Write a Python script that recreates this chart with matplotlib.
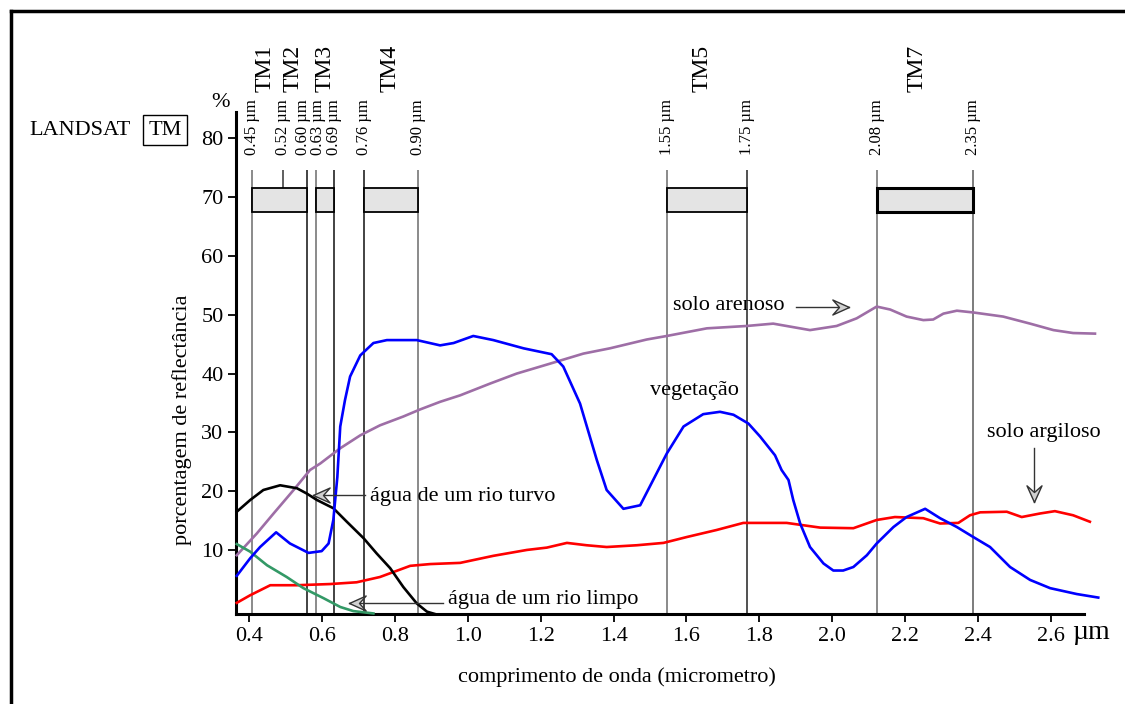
import matplotlib.pyplot as plt
from matplotlib.patches import Rectangle
from matplotlib.lines import Line2D

plt.rcParams['font.family'] = ['Liberation Serif', 'DejaVu Serif']

# curvas de reflectância (x em µm, y em %)
veg_x = [0.366, 0.403, 0.430, 0.474, 0.512, 0.563, 0.599, 0.618, 0.631, 0.642, 0.650, 0.663,
         0.677, 0.705, 0.741, 0.778, 0.860, 0.924, 0.961, 1.015, 1.070, 1.153, 1.230, 1.262,
         1.308, 1.354, 1.381, 1.427, 1.473, 1.546, 1.592, 1.646, 1.692, 1.729, 1.770, 1.802,
         1.843, 1.861, 1.880, 1.893, 1.912, 1.939, 1.976, 2.003, 2.030, 2.058, 2.095, 2.122,
         2.168, 2.204, 2.255, 2.296, 2.342, 2.387, 2.433, 2.488, 2.543, 2.598, 2.671, 2.730]
veg_y = [5.6, 8.6, 10.5, 13.0, 11.1, 9.5, 9.8, 11.1, 15.1, 22.4, 31.0, 35.5,
         39.5, 43.1, 45.2, 45.7, 45.7, 44.8, 45.2, 46.4, 45.7, 44.3, 43.3, 41.2,
         34.9, 25.3, 20.2, 17.0, 17.6, 26.4, 31.0, 33.1, 33.5, 33.0, 31.5, 29.3,
         26.1, 23.6, 21.9, 18.5, 14.5, 10.5, 7.7, 6.5, 6.5, 7.1, 9.1, 11.1,
         13.9, 15.6, 17.0, 15.4, 13.9, 12.2, 10.5, 7.1, 4.9, 3.5, 2.5, 1.9]

areia_x = [0.366, 0.421, 0.467, 0.522, 0.567, 0.595, 0.650, 0.705, 0.759, 0.823, 0.869, 0.924,
           0.979, 1.061, 1.134, 1.226, 1.317, 1.390, 1.491, 1.546, 1.656, 1.765, 1.838, 1.939,
           2.012, 2.067, 2.122, 2.159, 2.204, 2.250, 2.277, 2.305, 2.342, 2.387, 2.469, 2.543,
           2.607, 2.661, 2.721]
areia_y = [9.1, 12.8, 16.2, 20.2, 23.6, 24.7, 27.3, 29.5, 31.2, 32.7, 33.9, 35.2,
           36.3, 38.3, 40.0, 41.7, 43.4, 44.3, 45.8, 46.4, 47.7, 48.1, 48.5, 47.4,
           48.1, 49.4, 51.4, 50.9, 49.7, 49.1, 49.2, 50.2, 50.7, 50.4, 49.7, 48.5,
           47.4, 46.9, 46.8]

turvo_x = [0.366, 0.403, 0.439, 0.485, 0.531, 0.558, 0.586, 0.631, 0.668, 0.714, 0.750, 0.787,
           0.823, 0.860, 0.888, 0.910]
turvo_y = [16.5, 18.5, 20.2, 21.0, 20.5, 19.6, 18.5, 17.1, 14.8, 12.0, 9.4, 6.9,
           3.7, 0.9, -0.5, -0.9]

limpo_x = [0.366, 0.403, 0.449, 0.503, 0.549, 0.604, 0.650, 0.686, 0.741]
limpo_y = [11.0, 9.7, 7.4, 5.4, 3.5, 1.8, 0.3, -0.4, -0.8]

argila_x = [0.366, 0.403, 0.458, 0.531, 0.622, 0.695, 0.759, 0.842, 0.897, 0.979, 1.070, 1.162,
            1.217, 1.272, 1.326, 1.381, 1.464, 1.537, 1.601, 1.683, 1.756, 1.875, 1.967, 2.058,
            2.122, 2.172, 2.250, 2.296, 2.346, 2.378, 2.406, 2.479, 2.520, 2.570, 2.611, 2.661,
            2.707]
argila_y = [1.0, 2.3, 4.0, 4.0, 4.2, 4.5, 5.4, 7.3, 7.6, 7.8, 9.0, 10.0,
            10.4, 11.2, 10.8, 10.5, 10.8, 11.2, 12.2, 13.4, 14.6, 14.6, 13.8, 13.7,
            15.1, 15.6, 15.4, 14.5, 14.6, 15.9, 16.4, 16.5, 15.6, 16.2, 16.6, 15.9,
            14.8]

# bandas do Landsat TM
band_edges = [0.407, 0.558, 0.583, 0.633, 0.714, 0.862, 1.546, 1.767, 2.124, 2.386]
band_labels = ['0.45 µm', '0.60 µm', '0.63 µm', '0.69 µm', '0.76 µm', '0.90 µm',
               '1.55 µm', '1.75 µm', '2.08 µm', '2.35 µm']
tm2_edge = 0.494
tm2_label = '0.52 µm'
boxes = [(0.407, 0.558), (0.583, 0.633), (0.714, 0.862), (1.546, 1.767), (2.124, 2.386)]
tm_names = ['TM1', 'TM2', 'TM3', 'TM4', 'TM5', 'TM7']
tm_pos = [0.444, 0.521, 0.609, 0.787, 1.642, 2.232]

xticks = [0.4, 0.6, 0.8, 1.0, 1.2, 1.4, 1.6, 1.8, 2.0, 2.2, 2.4, 2.6]
yticks = [10, 20, 30, 40, 50, 60, 70, 80]

fs = 16

fig = plt.figure(figsize=(11.25, 7.04), dpi=100)
ax = fig.add_axes([0.2098, 0.1278, 0.7538, 0.7131])
ybot, ytop = -0.9, 84.5
ax.set_xlim(0.364, 2.691)
ax.set_ylim(ybot, ytop)

for s in ['top', 'right']:
    ax.spines[s].set_visible(False)
for s in ['left', 'bottom']:
    ax.spines[s].set_linewidth(2.2)
ax.set_xticks(xticks)
ax.set_xticklabels([f'{v:.1f}' for v in xticks])
ax.set_yticks(yticks)
ax.tick_params(direction='out', length=6, width=1.3, labelsize=fs, pad=3)

# linhas e caixas das bandas
edge_colors = ['#777777', '#222222', '#777777', '#222222', '#222222', '#777777',
               '#777777', '#333333', '#777777', '#666666']
line_top = 74.6
ax.vlines(band_edges, ybot, line_top, colors=edge_colors, lw=1.2, zorder=2)
ax.vlines(tm2_edge, 71.6, line_top, colors='#444444', lw=1.2, zorder=2)
for i, (x0, x1) in enumerate(boxes):
    lw = 2.2 if i == len(boxes) - 1 else 1.3
    ax.add_patch(Rectangle((x0, 67.5), x1 - x0, 4.1, fc='#e4e4e4', ec='black',
                           lw=lw, zorder=3))

label_pos = list(band_edges)
label_pos[1] -= 0.011
label_pos[2] += 0.005
for x, t in zip(label_pos, band_labels):
    ax.text(x, 77.2, t, rotation=90, ha='center', va='bottom', fontsize=12)
ax.text(tm2_edge, 77.2, tm2_label, rotation=90, ha='center', va='bottom', fontsize=12)
for x, t in zip(tm_pos, tm_names):
    ax.text(x, 87.9, t, rotation=90, ha='center', va='bottom', fontsize=17)

# curvas
lw = 1.9
ax.plot(areia_x, areia_y, color='#9e6ea6', lw=lw, clip_on=False, zorder=4)
ax.plot(veg_x, veg_y, color='#0000ff', lw=lw, clip_on=False, zorder=5)
ax.plot(argila_x, argila_y, color='#ff0000', lw=lw, clip_on=False, zorder=4)
ax.plot(turvo_x, turvo_y, color='black', lw=lw, clip_on=False, zorder=4)
ax.plot(limpo_x, limpo_y, color='#339966', lw=lw, clip_on=False, zorder=4)

# setas das legendas
head_left = [(0, 0), (2, 0.9), (1.2, 0), (2, -0.9), (0, 0)]
head_right = [(0, 0), (-2, 0.9), (-1.2, 0), (-2, -0.9), (0, 0)]
head_down = [(0, 0), (0.9, 2), (0, 1.2), (-0.9, 2), (0, 0)]


def seta(tail, tip, head):
    ax.plot([tail[0], tip[0]], [tail[1], tip[1]], color='#333333', lw=1, clip_on=False, zorder=6)
    ax.plot(tip[0], tip[1], marker=head, ms=24, mfc='#d0d0d0', mec='#333333', mew=1,
            clip_on=False, zorder=7)


seta((0.718, 19.3), (0.576, 19.3), head_left)
seta((0.933, 1.0), (0.675, 1.0), head_left)
seta((1.901, 51.4), (2.047, 51.4), head_right)
seta((2.554, 27.3), (2.554, 18.2), head_down)

ax.text(0.732, 19.1, 'água de um rio turvo', fontsize=fs, va='center', ha='left')
ax.text(0.945, 1.5, 'água de um rio limpo', fontsize=fs, va='center', ha='left')
ax.text(1.562, 51.5, 'solo arenoso', fontsize=fs, va='center', ha='left')
ax.text(1.500, 37.2, 'vegetação', fontsize=fs, va='center', ha='left')
ax.text(2.424, 30.0, 'solo argiloso', fontsize=fs, va='center', ha='left')

# textos da figura
fig.text(0.1618, 0.4034, 'porcentagem de reflectância', rotation=90, fontsize=fs,
         ha='center', va='center')
fig.text(0.5484, 0.0384, 'comprimento de onda (micrometro)', fontsize=fs,
         ha='center', va='center')
fig.text(0.970, 0.102, 'µm', fontsize=20, ha='center', va='center')
fig.text(0.1956, 0.8537, '%', fontsize=16, ha='center', va='center')
fig.text(0.0258, 0.8153, 'LANDSAT', fontsize=fs, ha='left', va='center')
fig.text(0.1467, 0.8153, 'TM', fontsize=fs, ha='center', va='center',
         bbox=dict(boxstyle='square,pad=0.25', fc='white', ec='black', lw=1))

# moldura
fig.add_artist(Line2D([0.0098, 1.0], [0.9844, 0.9844], color='black', lw=2.5))
fig.add_artist(Line2D([0.0098, 0.0098], [0.0, 0.9844], color='black', lw=2.5))

fig.savefig('out.png', dpi=100)
